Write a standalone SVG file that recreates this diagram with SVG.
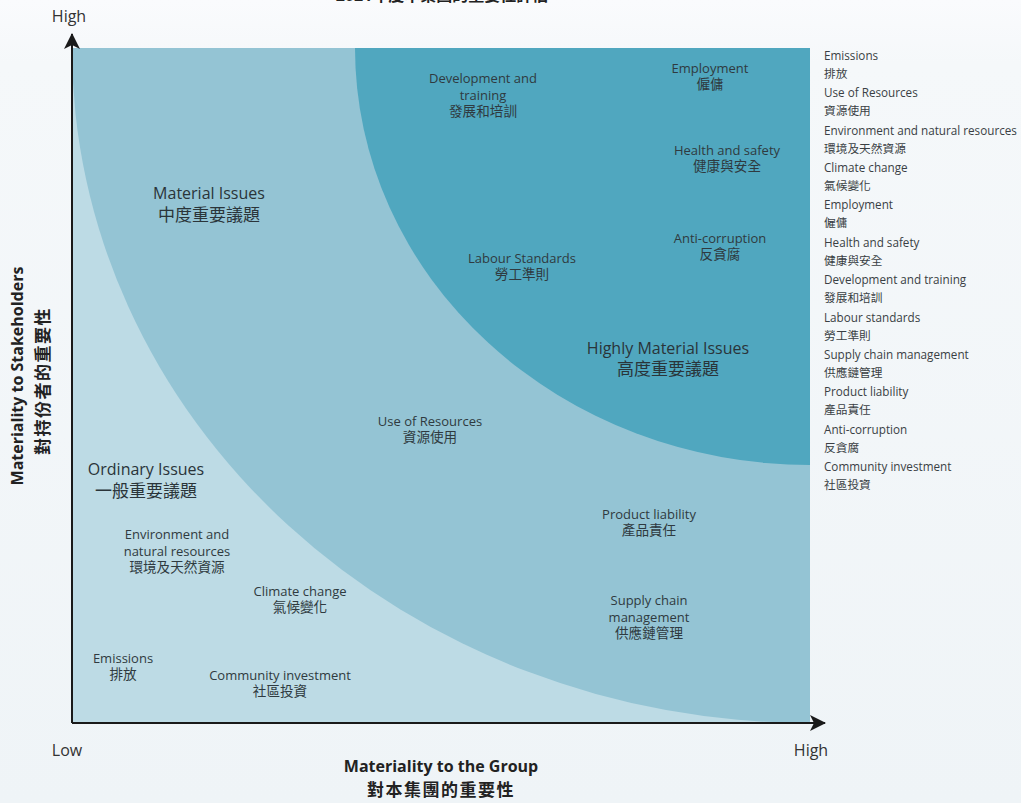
<svg xmlns="http://www.w3.org/2000/svg" width="1021" height="803" viewBox="0 0 1021 803">
<defs>
<style>
.lb{font-family:"Open Sans","Noto Sans CJK TC",sans-serif;font-size:13px;fill:#2f3a40;text-anchor:middle}
.cj{font-family:"Open Sans","Noto Sans CJK TC",sans-serif;font-size:13.6px;fill:#2f3a40;text-anchor:middle}
.rt{font-family:"Open Sans","Noto Sans CJK TC",sans-serif;font-size:16px;fill:#2a3439;text-anchor:middle}
.rc{font-family:"Open Sans","Noto Sans CJK TC",sans-serif;font-size:17px;fill:#2a3439;text-anchor:middle}
.lg{font-family:"Open Sans","Noto Sans CJK TC",sans-serif;font-size:11.7px;fill:#3a3f44}
.ax{font-family:"Open Sans","Noto Sans CJK TC",sans-serif;font-size:16px;fill:#333}
.at{font-family:"Open Sans","Noto Sans CJK TC",sans-serif;font-size:16px;font-weight:bold;fill:#222;text-anchor:middle}
.ac{font-family:"Open Sans","Noto Sans CJK TC",sans-serif;font-size:17px;font-weight:bold;fill:#222;text-anchor:middle;letter-spacing:1.5px}
</style>
<linearGradient id="bg" x1="0" y1="0" x2="0" y2="1">
<stop offset="0" stop-color="#fafbfd"/>
<stop offset="0.08" stop-color="#f5f8fa"/>
<stop offset="1" stop-color="#eff4f7"/>
</linearGradient>
<marker id="ah" viewBox="0 0 16 16" refX="15" refY="8" markerWidth="16" markerHeight="16" markerUnits="userSpaceOnUse" orient="auto">
<path d="M0,0 L16,8 L0,16 L4,8 Z" fill="#1a1a1a"/>
</marker>
</defs>
<rect x="0" y="0" width="1021" height="803" fill="url(#bg)"/>
<text x="442" y="1" class="at" font-size="19">2021年度本集團的重要性評估</text>
<g id="regions">
<rect id="ordinary" x="72" y="48" width="738" height="675" fill="#bddbe5"/>
<path id="material" d="M72,48 L810,48 L810,723 A738,675 0 0 1 72,48 Z" fill="#94c4d4"/>
<path id="highly" d="M355,48 L810,48 L810,465 A455,417 0 0 1 355,48 Z" fill="#50a7bf"/>
</g>
<g id="connectors">
<line x1="72" y1="723" x2="72" y2="34" stroke="#1a1a1a" stroke-width="2" marker-end="url(#ah)"/>
<line x1="72" y1="723" x2="825" y2="723" stroke="#1a1a1a" stroke-width="2" marker-end="url(#ah)"/>
</g>
<g id="axis-labels">
<text x="69" y="22" class="ax" text-anchor="middle">High</text>
<text x="67" y="756" class="ax" text-anchor="middle">Low</text>
<text x="811" y="756" class="ax" text-anchor="middle">High</text>
<text x="441" y="772" class="at">Materiality to the Group</text>
<text x="441" y="796" class="ac">對本集團的重要性</text>
<text transform="translate(23,376) rotate(-90)" class="at">Materiality to Stakeholders</text>
<text transform="translate(49,381) rotate(-90)" class="ac">對持份者的重要性</text>
</g>
<g id="region-titles">
<text x="209" y="199" class="rt">Material Issues</text>
<text x="209" y="221" class="rc">中度重要議題</text>
<text x="668" y="354" class="rt">Highly Material Issues</text>
<text x="668" y="375" class="rc">高度重要議題</text>
<text x="146" y="475" class="rt">Ordinary Issues</text>
<text x="146" y="497" class="rc">一般重要議題</text>
</g>
<g id="n-dev"><text x="483" y="83" class="lb">Development and</text><text x="483" y="100" class="lb">training</text><text x="483" y="116" class="cj">發展和培訓</text></g>
<g id="n-emp"><text x="710" y="73" class="lb">Employment</text><text x="710" y="89" class="cj">僱傭</text></g>
<g id="n-hs"><text x="727" y="155" class="lb">Health and safety</text><text x="727" y="171" class="cj">健康與安全</text></g>
<g id="n-lab"><text x="522" y="263" class="lb">Labour Standards</text><text x="522" y="279" class="cj">勞工準則</text></g>
<g id="n-ac"><text x="720" y="243" class="lb">Anti-corruption</text><text x="720" y="259" class="cj">反貪腐</text></g>
<g id="n-use"><text x="430" y="426" class="lb">Use of Resources</text><text x="430" y="442" class="cj">資源使用</text></g>
<g id="n-env"><text x="177" y="539" class="lb">Environment and</text><text x="177" y="556" class="lb">natural resources</text><text x="177" y="572" class="cj">環境及天然資源</text></g>
<g id="n-cc"><text x="300" y="596" class="lb">Climate change</text><text x="300" y="612" class="cj">氣候變化</text></g>
<g id="n-pl"><text x="649" y="519" class="lb">Product liability</text><text x="649" y="535" class="cj">產品責任</text></g>
<g id="n-sc"><text x="649" y="605" class="lb">Supply chain</text><text x="649" y="622" class="lb">management</text><text x="649" y="638" class="cj">供應鏈管理</text></g>
<g id="n-em"><text x="123" y="663" class="lb">Emissions</text><text x="123" y="679" class="cj">排放</text></g>
<g id="n-ci"><text x="280" y="680" class="lb">Community investment</text><text x="280" y="696" class="cj">社區投資</text></g>
<g id="legend">
<text x="824" y="60" class="lg">Emissions</text>
<text x="824" y="78" class="lg">排放</text>
<text x="824" y="97" class="lg">Use of Resources</text>
<text x="824" y="115" class="lg">資源使用</text>
<text x="824" y="135" class="lg">Environment and natural resources</text>
<text x="824" y="153" class="lg">環境及天然資源</text>
<text x="824" y="172" class="lg">Climate change</text>
<text x="824" y="190" class="lg">氣候變化</text>
<text x="824" y="209" class="lg">Employment</text>
<text x="824" y="227" class="lg">僱傭</text>
<text x="824" y="247" class="lg">Health and safety</text>
<text x="824" y="265" class="lg">健康與安全</text>
<text x="824" y="284" class="lg">Development and training</text>
<text x="824" y="302" class="lg">發展和培訓</text>
<text x="824" y="322" class="lg">Labour standards</text>
<text x="824" y="340" class="lg">勞工準則</text>
<text x="824" y="359" class="lg">Supply chain management</text>
<text x="824" y="377" class="lg">供應鏈管理</text>
<text x="824" y="396" class="lg">Product liability</text>
<text x="824" y="414" class="lg">產品責任</text>
<text x="824" y="434" class="lg">Anti-corruption</text>
<text x="824" y="452" class="lg">反貪腐</text>
<text x="824" y="471" class="lg">Community investment</text>
<text x="824" y="489" class="lg">社區投資</text>
</g>
</svg>
